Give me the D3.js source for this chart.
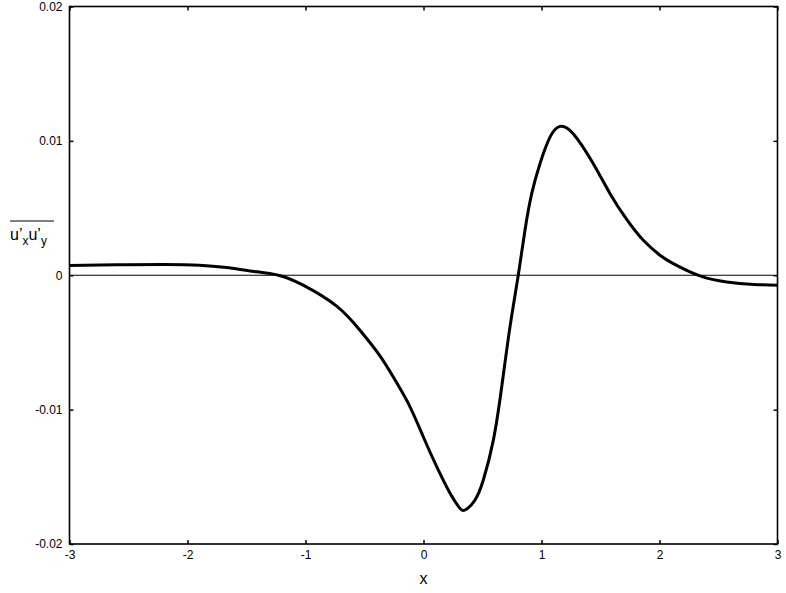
<!DOCTYPE html>
<html>
<head>
<meta charset="utf-8">
<style>
  body { margin: 0; background: #fff; }
  text { font-family: "Liberation Sans", Arial, sans-serif; fill: #000; }
</style>
</head>
<body>
<svg id="chart"></svg>
<script src="https://cdn.jsdelivr.net/npm/d3@7"></script>
<script>
// values
var xs = [-3, -2.6, -2.2, -1.9, -1.67, -1.45, -1.23, -1.02, -0.736, -0.538, -0.369, -0.227, -0.114, -0.002,
          0.112, 0.225, 0.3, 0.352, 0.436, 0.507, 0.592, 0.663, 0.733, 0.803, 0.86, 0.917, 0.987, 1.072,
          1.157, 1.269, 1.439, 1.581, 1.722, 1.863, 2.004, 2.117, 2.343, 2.569, 2.8, 3];
var uv = [0.00072, 0.00078, 0.0008, 0.00075, 0.00057, 0.0003, 0.0, -0.00074, -0.0023, -0.0041, -0.006, -0.008, -0.00979, -0.01202,
          -0.01425, -0.01623, -0.01725, -0.01747, -0.01673, -0.01524, -0.01227, -0.0083, -0.00384, 0.0, 0.00335, 0.00607, 0.0083, 0.01028,
          0.01108, 0.01053, 0.0083, 0.00607, 0.00415, 0.0026, 0.00149, 0.00087, -0.00005, -0.0005, -0.00068, -0.00074];
var xTicks = [-3, -2, -1, 0, 1, 2, 3];
var yTicks = [-0.02, -0.01, 0, 0.01, 0.02];

var width = 786, height = 593;
var margin = {left: 69.5, right: 8.5, top: 6.5, bottom: 49};

var svg = d3.select("#chart").attr("width", width).attr("height", height);

var x = d3.scaleLinear().domain([-3, 3]).range([margin.left, width - margin.right]);
var y = d3.scaleLinear().domain([-0.02, 0.02]).range([height - margin.bottom, margin.top]);

function fmtY(d) { return d === 0 ? "0" : String(+d.toFixed(2)); }

// zero line
svg.append("line")
  .attr("x1", x(-3)).attr("x2", x(3))
  .attr("y1", y(0)).attr("y2", y(0))
  .attr("stroke", "#000").attr("stroke-width", 1.2);

// axes, ticks pointing inward
var tickLen = 4;
svg.append("g").attr("transform", "translate(0," + y(-0.02) + ")")
  .call(d3.axisBottom(x).tickValues(xTicks).tickSize(-tickLen).tickPadding(6).tickFormat(String))
  .call(function(g) { g.select(".domain").remove(); });
svg.append("g").attr("transform", "translate(0," + y(0.02) + ")")
  .call(d3.axisTop(x).tickValues(xTicks).tickSize(-tickLen).tickFormat(""))
  .call(function(g) { g.select(".domain").remove(); });
svg.append("g").attr("transform", "translate(" + x(-3) + ",0)")
  .call(d3.axisLeft(y).tickValues(yTicks).tickSize(-tickLen).tickPadding(7).tickFormat(fmtY))
  .call(function(g) { g.select(".domain").remove(); });
svg.append("g").attr("transform", "translate(" + x(3) + ",0)")
  .call(d3.axisRight(y).tickValues(yTicks).tickSize(-tickLen).tickFormat(""))
  .call(function(g) { g.select(".domain").remove(); });

svg.selectAll(".tick line").attr("stroke", "#000").attr("stroke-width", 1.5);
svg.selectAll(".tick text").style("font-size", "12px").style("font-family", "Liberation Sans, Arial, sans-serif");

// frame
svg.append("rect")
  .attr("x", x(-3)).attr("y", y(0.02))
  .attr("width", x(3) - x(-3)).attr("height", y(-0.02) - y(0.02))
  .attr("fill", "none").attr("stroke", "#000").attr("stroke-width", 1.6);

// curve
var pts = xs.map(function(d, i) { return [d, uv[i]]; });
var line = d3.line()
  .x(function(d) { return x(d[0]); })
  .y(function(d) { return y(d[1]); })
  .curve(d3.curveNatural);
svg.append("path")
  .datum(pts)
  .attr("d", line)
  .attr("fill", "none")
  .attr("stroke", "#000")
  .attr("stroke-width", 3)
  .attr("stroke-linejoin", "round");

// axis labels
svg.append("text")
  .attr("x", (x(-3) + x(3)) / 2).attr("y", 584)
  .attr("text-anchor", "middle")
  .style("font-size", "16px")
  .text("x");

var yl = svg.append("text")
  .attr("x", 10).attr("y", 240)
  .style("font-size", "16px");
yl.append("tspan").text("u\u2019");
yl.append("tspan").attr("dy", 4.5).style("font-size", "12px").text("x");
yl.append("tspan").attr("dy", -4.5).text("u\u2019");
yl.append("tspan").attr("dy", 4.5).style("font-size", "12px").text("y");
svg.append("line")
  .attr("x1", 10).attr("x2", 54)
  .attr("y1", 221).attr("y2", 221)
  .attr("stroke", "#000").attr("stroke-width", 1.2);
</script>
</body>
</html>
